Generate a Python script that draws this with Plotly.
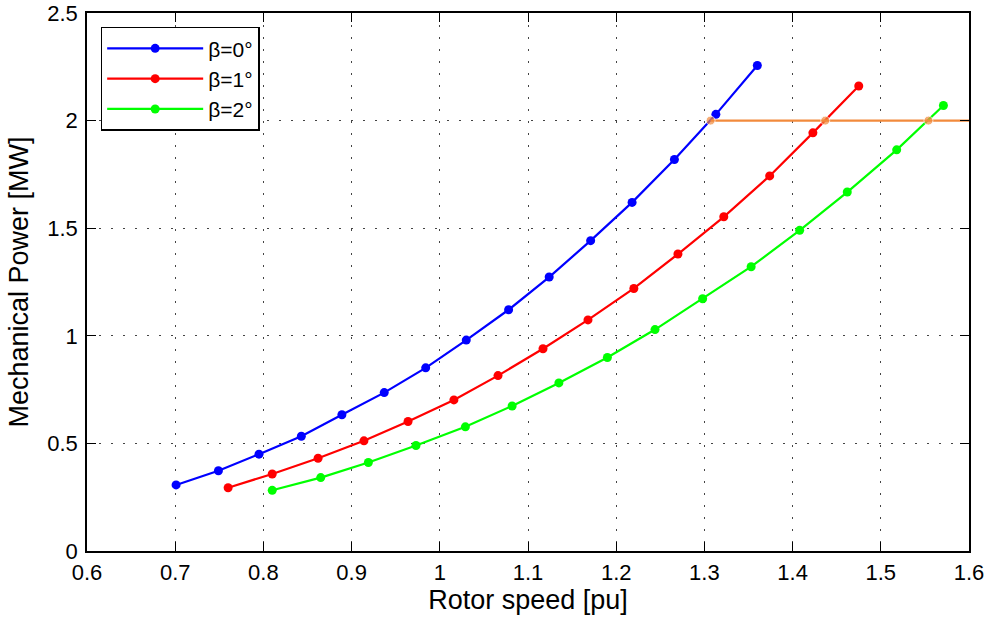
import plotly.graph_objects as go

# Rotor speed [pu] and mechanical power [MW] for each pitch angle
speed_b0 = [0.701, 0.749, 0.795, 0.843, 0.889, 0.937, 0.984, 1.030, 1.078, 1.124,
            1.171, 1.218, 1.266, 1.313, 1.360]
power_b0 = [0.307, 0.373, 0.450, 0.533, 0.633, 0.736, 0.851, 0.980, 1.121, 1.273,
            1.442, 1.620, 1.819, 2.029, 2.256]

speed_b1 = [0.760, 0.810, 0.862, 0.914, 0.964, 1.016, 1.066, 1.117, 1.168, 1.220,
            1.270, 1.322, 1.374, 1.423, 1.475]
power_b1 = [0.294, 0.358, 0.431, 0.512, 0.602, 0.702, 0.815, 0.940, 1.074, 1.220,
            1.380, 1.553, 1.743, 1.943, 2.161]

speed_b2 = [0.810, 0.865, 0.919, 0.973, 1.029, 1.082, 1.135, 1.190, 1.244, 1.298,
            1.353, 1.408, 1.462, 1.518, 1.571]
power_b2 = [0.282, 0.341, 0.411, 0.490, 0.577, 0.674, 0.781, 0.899, 1.029, 1.172,
            1.321, 1.490, 1.668, 1.864, 2.070]

# Rated power line (2 MW) and its intersections
rated_speed = [1.307, 1.437, 1.554, 1.6]
rated_power = [2.0, 2.0, 2.0, 2.0]
rated_marker_sizes = [9, 9, 9, 0]

labels = ["β=0°", "β=1°", "β=2°"]
colors = ["#0000FF", "#FF0000", "#00FF00"]

fig = go.Figure()
for xs, ys, name, c in zip([speed_b0, speed_b1, speed_b2],
                           [power_b0, power_b1, power_b2], labels, colors):
    fig.add_trace(go.Scatter(x=xs, y=ys, name=name, mode="lines+markers",
                             line=dict(color=c, width=2.2),
                             marker=dict(color=c, size=9)))

fig.add_trace(go.Scatter(x=rated_speed, y=rated_power, mode="lines+markers",
                         showlegend=False,
                         line=dict(color="#F28A3C", width=2.2),
                         marker=dict(color="#F28A3C", size=rated_marker_sizes)))

font_family = "Liberation Sans, Arial, sans-serif"
axis_common = dict(
    showline=True, linecolor="black", linewidth=1.5, mirror="ticks",
    ticks="inside", ticklen=9, tickcolor="black", tickwidth=1,
    showgrid=True, gridcolor="#444444", gridwidth=1, griddash="2px,10px",
    zeroline=False, automargin=False,
    tickfont=dict(size=22, color="black", family=font_family),
)

fig.update_xaxes(range=[0.6, 1.6], dtick=0.1, tick0=0.6, ticklabelstandoff=1,
                 title=dict(text="Rotor speed [pu]", font=dict(size=27, color="black", family=font_family), standoff=5),
                 **axis_common)
fig.update_yaxes(range=[0, 2.5], dtick=0.5, tick0=0, ticklabelstandoff=3,
                 title=dict(text="Mechanical Power [MW]", font=dict(size=27, color="black", family=font_family), standoff=11),
                 **axis_common)

fig.update_layout(
    width=986, height=619,
    margin=dict(l=87, r=17, t=13, b=68),
    plot_bgcolor="white", paper_bgcolor="white",
    font=dict(family=font_family, color="black"),
    legend=dict(x=0.0155, y=0.9745, xanchor="left", yanchor="top",
                bgcolor="white", bordercolor="black", borderwidth=1.5,
                font=dict(size=21, family=font_family, color="black"),
                itemwidth=96, tracegroupgap=0),
)

fig.write_html("out.html")
